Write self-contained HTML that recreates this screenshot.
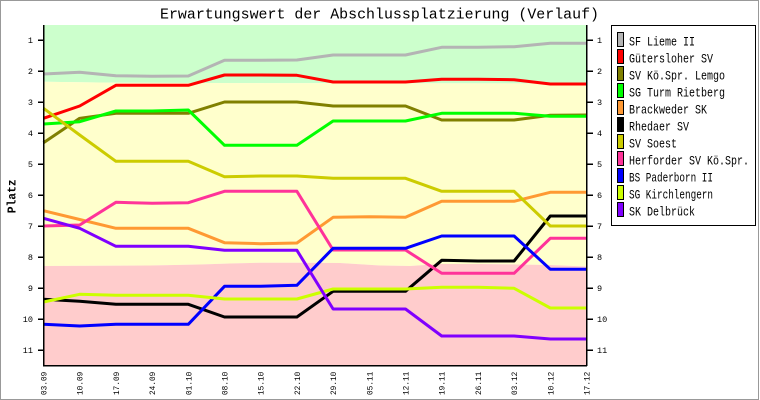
<!DOCTYPE html>
<html><head><meta charset="utf-8"><style>
html,body{margin:0;padding:0;background:#fff;}
svg{display:block;}
text{font-family:"Liberation Mono","DejaVu Sans Mono",monospace;fill:#000;}
</style></head><body>
<svg width="760" height="400" viewBox="0 0 760 400" xmlns="http://www.w3.org/2000/svg">
<rect x="0" y="0" width="760" height="400" fill="#fff"/>
<rect x="0.5" y="0.5" width="758" height="399" fill="none" stroke="#999" stroke-width="1"/>
<!-- bands -->
<polygon points="43.5,25 586.5,25 586.5,83.5 200,83 120,82.7 80,82.2 43.5,81.7" fill="#ccffcc"/>
<polygon points="43.5,81.7 80,82.2 120,82.7 200,83 586.5,83.5 586.5,266.5 550,265 480,264 440,264 410,266 380,265.5 340,263 300,262.7 260,262.7 230,263.5 200,264.5 150,265.5 43.5,266" fill="#ffffcc"/>
<polygon points="43.5,266 150,265.5 200,264.5 230,263.5 260,262.7 300,262.7 340,263 380,265.5 410,266 440,264 480,264 550,265 586.5,266.5 586.5,365 43.5,365" fill="#ffcccc"/>
<!-- title -->
<text x="160" y="18.3" font-size="15" textLength="439" lengthAdjust="spacingAndGlyphs">Erwartungswert der Abschlussplatzierung (Verlauf)</text>
<!-- series -->
<g fill="none" stroke-width="3" stroke-linejoin="round">
<polyline stroke="#b4b4b4" points="43.5,74 79.7,72.3 115.9,75.7 152.1,76.3 188.3,76 224.5,60.3 260.7,60.3 296.9,60 333.1,55 369.3,55 405.5,55 441.7,47.3 477.9,47.3 514.1,46.7 550.3,43.3 586.5,43.3"/>
<polyline stroke="#ff0000" points="43.5,118.3 79.7,106 115.9,85.3 152.1,85.3 188.3,85.3 224.5,75 260.7,75 296.9,75.3 333.1,82 369.3,82 405.5,82 441.7,79.3 477.9,79.3 514.1,79.7 550.3,84 586.5,84"/>
<polyline stroke="#808000" points="43.5,142.7 79.7,118.3 115.9,113.3 152.1,113.3 188.3,113.3 224.5,102 260.7,102 296.9,102 333.1,106 369.3,106 405.5,106 441.7,120 477.9,120 514.1,120 550.3,115.3 586.5,115"/>
<polyline stroke="#00ff00" points="43.5,124 79.7,121.7 115.9,111 152.1,111 188.3,110 224.5,145.3 260.7,145.3 296.9,145.3 333.1,121 369.3,121 405.5,121 441.7,113.3 477.9,113.3 514.1,113.3 550.3,116.3 586.5,116.3"/>
<polyline stroke="#ff9933" points="43.5,210.7 79.7,219.5 115.9,228.3 152.1,228.3 188.3,228.3 224.5,242.7 260.7,243.7 296.9,243 333.1,217.3 369.3,216.7 405.5,217.3 441.7,201.3 477.9,201.3 514.1,201.3 550.3,192.3 586.5,192.3"/>
<polyline stroke="#000000" points="43.5,299.3 79.7,301.3 115.9,304.3 152.1,304.3 188.3,304.3 224.5,317 260.7,317 296.9,317 333.1,291.3 369.3,291.3 405.5,291.3 441.7,260.3 477.9,261 514.1,261 550.3,216 586.5,216"/>
<polyline stroke="#cccc00" points="43.5,108.3 79.7,135 115.9,161.3 152.1,161.3 188.3,161.3 224.5,176.7 260.7,176 296.9,176 333.1,178.3 369.3,178.3 405.5,178.3 441.7,191.3 477.9,191.3 514.1,191.3 550.3,226 586.5,226"/>
<polyline stroke="#ff3399" points="43.5,226 79.7,225 115.9,202.3 152.1,203.3 188.3,202.7 224.5,191.3 260.7,191.3 296.9,191.3 333.1,250 369.3,250 405.5,250 441.7,273.3 477.9,273.3 514.1,273.3 550.3,238.3 586.5,238.3"/>
<polyline stroke="#0000ff" points="43.5,324.3 79.7,326 115.9,324.3 152.1,324.3 188.3,324.3 224.5,286.3 260.7,286.3 296.9,285.3 333.1,248.3 369.3,248.3 405.5,248.3 441.7,236 477.9,236 514.1,236 550.3,269.3 586.5,269.3"/>
<polyline stroke="#ccff00" points="43.5,302 79.7,294.3 115.9,295.3 152.1,295.3 188.3,295.3 224.5,299 260.7,299 296.9,299 333.1,289 369.3,289 405.5,289 441.7,287.3 477.9,287.3 514.1,288.3 550.3,308 586.5,308"/>
<polyline stroke="#8000ff" points="43.5,218.3 79.7,228.3 115.9,246.3 152.1,246.3 188.3,246.3 224.5,250.3 260.7,250.3 296.9,250.3 333.1,309 369.3,309 405.5,309 441.7,336 477.9,336 514.1,336 550.3,339 586.5,339"/>
</g>
<!-- axes -->
<g stroke="#000" stroke-width="1.5" shape-rendering="crispEdges">
<line x1="43.5" y1="25" x2="43.5" y2="366"/>
<line x1="586.5" y1="25" x2="586.5" y2="366"/>
<line x1="43" y1="365.5" x2="587" y2="365.5"/>
</g>
<g stroke="#000" stroke-width="1.5" shape-rendering="crispEdges">
<line x1="38" y1="40" x2="43" y2="40"/><line x1="38" y1="71" x2="43" y2="71"/><line x1="38" y1="102" x2="43" y2="102"/><line x1="38" y1="133" x2="43" y2="133"/><line x1="38" y1="164" x2="43" y2="164"/><line x1="38" y1="195" x2="43" y2="195"/><line x1="38" y1="226" x2="43" y2="226"/><line x1="38" y1="257" x2="43" y2="257"/><line x1="38" y1="288" x2="43" y2="288"/><line x1="38" y1="319" x2="43" y2="319"/><line x1="38" y1="350" x2="43" y2="350"/>
<line x1="587" y1="40" x2="593" y2="40"/><line x1="587" y1="71" x2="593" y2="71"/><line x1="587" y1="102" x2="593" y2="102"/><line x1="587" y1="133" x2="593" y2="133"/><line x1="587" y1="164" x2="593" y2="164"/><line x1="587" y1="195" x2="593" y2="195"/><line x1="587" y1="226" x2="593" y2="226"/><line x1="587" y1="257" x2="593" y2="257"/><line x1="587" y1="288" x2="593" y2="288"/><line x1="587" y1="319" x2="593" y2="319"/><line x1="587" y1="350" x2="593" y2="350"/>
</g>
<g font-size="8.5" text-anchor="end">
<text x="33" y="43">1</text><text x="33" y="74">2</text><text x="33" y="105">3</text><text x="33" y="136">4</text><text x="33" y="167">5</text><text x="33" y="198">6</text><text x="33" y="229">7</text><text x="33" y="260">8</text><text x="33" y="291">9</text><text x="33" y="322">10</text><text x="33" y="353">11</text>
</g>
<g font-size="8.5">
<text x="597" y="43">1</text><text x="597" y="74">2</text><text x="597" y="105">3</text><text x="597" y="136">4</text><text x="597" y="167">5</text><text x="597" y="198">6</text><text x="597" y="229">7</text><text x="597" y="260">8</text><text x="597" y="291">9</text><text x="597" y="322">10</text><text x="597" y="353">11</text>
</g>
<!-- y axis label -->
<text transform="translate(15.7,213.3) rotate(-90)" font-size="12" font-weight="bold" textLength="34" lengthAdjust="spacingAndGlyphs">Platz</text>
<!-- x labels -->
<g font-size="8">
<text transform="translate(46.5,395) rotate(-90)" textLength="23.3" lengthAdjust="spacingAndGlyphs">03.09</text>
<text transform="translate(82.7,395) rotate(-90)" textLength="23.3" lengthAdjust="spacingAndGlyphs">10.09</text>
<text transform="translate(118.9,395) rotate(-90)" textLength="23.3" lengthAdjust="spacingAndGlyphs">17.09</text>
<text transform="translate(155.1,395) rotate(-90)" textLength="23.3" lengthAdjust="spacingAndGlyphs">24.09</text>
<text transform="translate(191.3,395) rotate(-90)" textLength="23.3" lengthAdjust="spacingAndGlyphs">01.10</text>
<text transform="translate(227.5,395) rotate(-90)" textLength="23.3" lengthAdjust="spacingAndGlyphs">08.10</text>
<text transform="translate(263.7,395) rotate(-90)" textLength="23.3" lengthAdjust="spacingAndGlyphs">15.10</text>
<text transform="translate(299.9,395) rotate(-90)" textLength="23.3" lengthAdjust="spacingAndGlyphs">22.10</text>
<text transform="translate(336.1,395) rotate(-90)" textLength="23.3" lengthAdjust="spacingAndGlyphs">29.10</text>
<text transform="translate(372.3,395) rotate(-90)" textLength="23.3" lengthAdjust="spacingAndGlyphs">05.11</text>
<text transform="translate(408.5,395) rotate(-90)" textLength="23.3" lengthAdjust="spacingAndGlyphs">12.11</text>
<text transform="translate(444.7,395) rotate(-90)" textLength="23.3" lengthAdjust="spacingAndGlyphs">19.11</text>
<text transform="translate(480.9,395) rotate(-90)" textLength="23.3" lengthAdjust="spacingAndGlyphs">26.11</text>
<text transform="translate(517.1,395) rotate(-90)" textLength="23.3" lengthAdjust="spacingAndGlyphs">03.12</text>
<text transform="translate(553.3,395) rotate(-90)" textLength="23.3" lengthAdjust="spacingAndGlyphs">10.12</text>
<text transform="translate(589.5,395) rotate(-90)" textLength="23.3" lengthAdjust="spacingAndGlyphs">17.12</text>
</g>
<!-- legend -->
<rect x="611.5" y="25.5" width="144" height="200" fill="#fff" stroke="#000" stroke-width="1"/>
<g stroke="#000" stroke-width="1">
<rect x="617.5" y="32.5" width="6" height="14" fill="#b4b4b4"/>
<rect x="617.5" y="49.5" width="6" height="14" fill="#ff0000"/>
<rect x="617.5" y="66.5" width="6" height="14" fill="#808000"/>
<rect x="617.5" y="83.5" width="6" height="14" fill="#00ff00"/>
<rect x="617.5" y="100.5" width="6" height="14" fill="#ff9933"/>
<rect x="617.5" y="117.5" width="6" height="14" fill="#000000"/>
<rect x="617.5" y="134.5" width="6" height="14" fill="#cccc00"/>
<rect x="617.5" y="151.5" width="6" height="14" fill="#ff3399"/>
<rect x="617.5" y="168.5" width="6" height="14" fill="#0000ff"/>
<rect x="617.5" y="185.5" width="6" height="14" fill="#ccff00"/>
<rect x="617.5" y="202.5" width="6" height="14" fill="#8000ff"/>
</g>
<g font-size="12.5">
<text x="629" y="45.5" textLength="66" lengthAdjust="spacingAndGlyphs">SF Lieme II</text>
<text x="629" y="62.5" textLength="84" lengthAdjust="spacingAndGlyphs">Gütersloher SV</text>
<text x="629" y="79.5" textLength="96" lengthAdjust="spacingAndGlyphs">SV Kö.Spr. Lemgo</text>
<text x="629" y="96.5" textLength="96" lengthAdjust="spacingAndGlyphs">SG Turm Rietberg</text>
<text x="629" y="113.5" textLength="78" lengthAdjust="spacingAndGlyphs">Brackweder SK</text>
<text x="629" y="130.5" textLength="60" lengthAdjust="spacingAndGlyphs">Rhedaer SV</text>
<text x="629" y="147.5" textLength="48" lengthAdjust="spacingAndGlyphs">SV Soest</text>
<text x="629" y="164.5" textLength="120" lengthAdjust="spacingAndGlyphs">Herforder SV Kö.Spr.</text>
<text x="629" y="181.5" textLength="84" lengthAdjust="spacingAndGlyphs">BS Paderborn II</text>
<text x="629" y="198.5" textLength="84" lengthAdjust="spacingAndGlyphs">SG Kirchlengern</text>
<text x="629" y="215.5" textLength="66" lengthAdjust="spacingAndGlyphs">SK Delbrück</text>
</g>
</svg>
</body></html>
